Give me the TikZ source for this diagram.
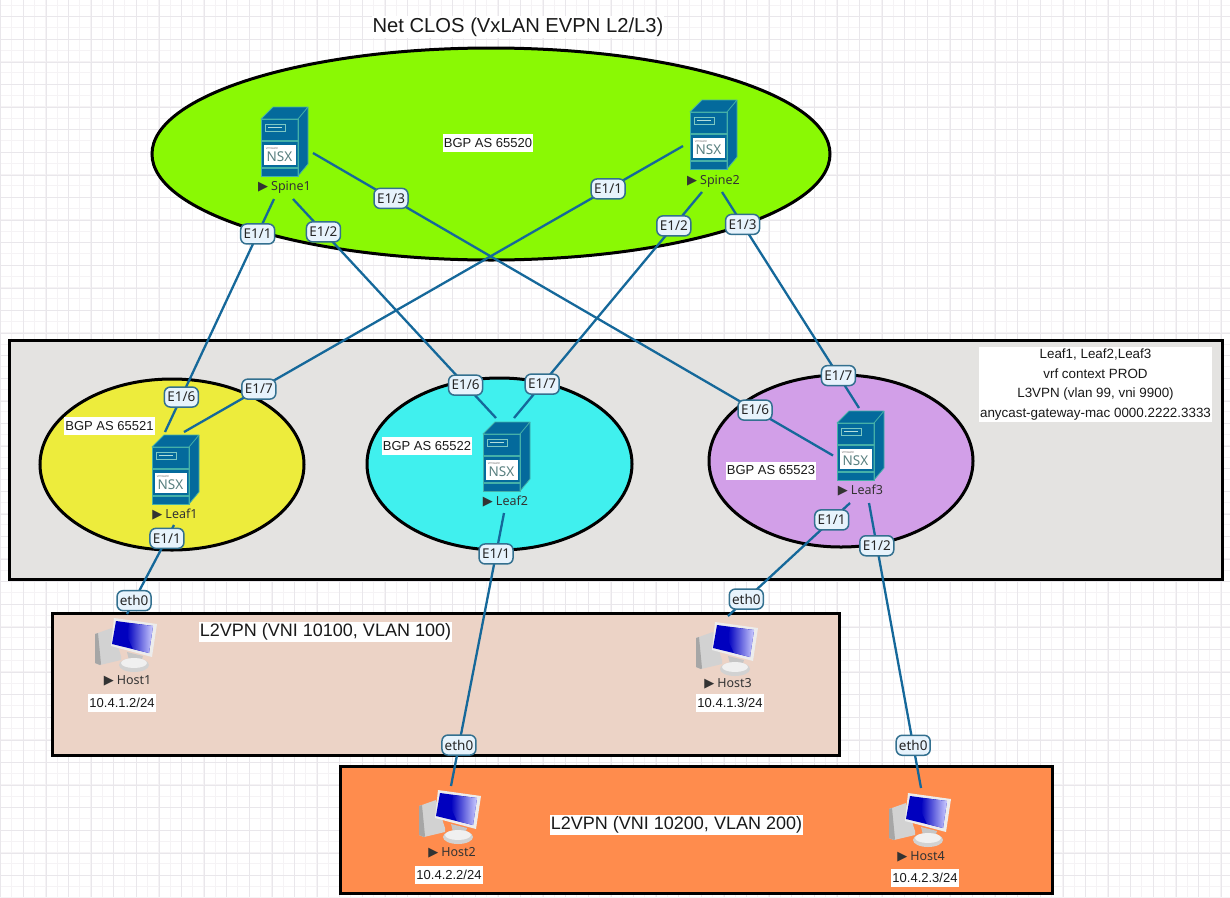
\documentclass[tikz,border=0pt]{standalone}
\usepackage{fontspec}
\setmainfont{Liberation Sans}
\newfontfamily\devfont{Noto Sans}
\newfontfamily\symfont{DejaVu Sans}
\usetikzlibrary{
  arrows.meta,
  positioning,
  fit,
  calc,
  shapes.geometric
}
\definecolor{linkblue}{HTML}{15689A}
\definecolor{portfill}{HTML}{E7F3FC}
\definecolor{portline}{HTML}{33708F}
\definecolor{nsxblue}{HTML}{046A9C}
\definecolor{nsxedge}{HTML}{45B0A8}
\definecolor{gridminor}{HTML}{F5F3F5}
\definecolor{gridmajor}{HTML}{E9E7EB}
\definecolor{fabricgray}{HTML}{E4E3E1}
\definecolor{vlanpeach}{HTML}{ECD3C6}
\definecolor{vlanorange}{HTML}{FF8C4D}
\definecolor{spinegreen}{HTML}{8AF904}
\definecolor{leafyellow}{HTML}{EDEC3C}
\definecolor{leafcyan}{HTML}{40F0EE}
\definecolor{leafviolet}{HTML}{D29FE8}
\newcommand{\fsize}[1]{\fontsize{#1}{#1}\selectfont}
\newcommand{\runmark}{{\symfont\fsize{13}\char"25B6}\hspace{3pt}}
\tikzset{
  zone/.style={draw=black, line width=3pt, inner sep=0pt},
  asarea/.style={draw=black, line width=3pt, ellipse, inner sep=0pt},
  note/.style={fill=white, inner xsep=1pt, inner ysep=2pt, text=black!90},
  hostip/.style={note, font=\fsize{13}, minimum height=18pt},
  bgpas/.style={note, font=\fsize{13}, minimum height=18pt},
  vpntext/.style={note, font=\fsize{18}},
  device/.style={inner sep=0pt, outer sep=0pt},
  devname/.style={inner sep=0pt, text=black!80, font=\devfont\fsize{12.5}},
  link/.style={draw=linkblue, line width=2.3pt},
  port/.style={draw=portline, fill=portfill, line width=1.5pt, rounded corners=6pt,
    minimum width=34pt, minimum height=20pt, inner sep=0pt, text=black!85,
    font=\devfont\fsize{13.5}},
  nsxicon/.pic={
    \fill[nsxblue] (0,12) -- (12,0) -- (47,0) -- (47,57) -- (37,69) -- (0,69) -- cycle;
    \draw[nsxedge, line width=.8pt, line join=round] (0,12) -- (12,0) -- (47,0) -- (37,12) -- cycle;
    \draw[nsxedge, line width=.8pt, line join=round] (47,0) -- (47,57) -- (37,69) -- (37,12);
    \draw[nsxedge, line width=.8pt] (0,12) rectangle (37,69);
    \draw[nsxedge, line width=1.3pt] (0,34) -- (37,34) (0,61) -- (37,61);
    \draw[nsxedge!70!white, line width=1pt] (4,17) rectangle (24,24);
    \draw[nsxedge!40!white, line width=1pt] (7,20.5) -- (21,20.5);
    \fill[white] (2.5,38) rectangle (34.5,58);
    \node[inner sep=0pt, text=gray, font=\fsize{3.5}] (-brand) at (11,42) {vmware};
    \node[inner sep=0pt, text=gray!70!teal, font=\devfont\bfseries\fsize{13.5}] (-logo) at (18.5,50) {NSX};
  },
  hosticon/.pic={
    \fill[gray!35] (0,16) -- (17,10) -- (26,38) -- (26,42) -- (5,47) -- (0,45) -- cycle;
    \fill[gray!70] (0,16) -- (3,15) -- (6,46) -- (5,47) -- (0,45) -- cycle;
    \fill[gray!45] (32,34) -- (48,38) -- (46,44) -- (34,42) -- cycle;
    \fill[gray!35] (39,47) ellipse [x radius=15pt, y radius=7pt];
    \fill[gray!12] (39,45) ellipse [x radius=13pt, y radius=5pt];
    \fill[gray!15] (19,0) -- (62,6) -- (57,39) -- (16,28) -- cycle;
    \fill[blue!75!black] (21,3) -- (58,8) -- (54,35) -- (17,26) -- cycle;
    \shade[left color=blue!75!black, right color=blue!20!white]
      (34,5) -- (58,8) -- (54,35) -- (38,31) -- (32,18) -- cycle;
  }
}

\begin{document}
\begin{tikzpicture}[x=1pt, y=-1pt]
\useasboundingbox (0,0) rectangle (1230,897);

% -------------------------
% Grid background
% -------------------------
\fill[white] (0,0) rectangle (1230,897);
\foreach \i in {0,...,108} {
  \draw[gridminor, line width=.8pt] ({.4+11.3*\i},0) -- ({.4+11.3*\i},897);
}
\foreach \i in {0,...,79} {
  \draw[gridminor, line width=.8pt] (0,{5+11.3*\i}) -- (1230,{5+11.3*\i});
}
\foreach \i in {0,...,54} {
  \draw[gridmajor, line width=.8pt] ({.7+22.6*\i},0) -- ({.7+22.6*\i},897);
}
\foreach \i in {0,...,39} {
  \draw[gridmajor, line width=.8pt] (0,{16.7+22.6*\i}) -- (1230,{16.7+22.6*\i});
}

% -------------------------
% Zones
% -------------------------
\node[note, font=\fsize{20.2}] (title) at (518, 27) {Net CLOS (VxLAN EVPN L2/L3)};

\node[zone, fill=fabricgray, minimum width=1213pt, minimum height=239pt] (fabric) at (615.5, 459.5) {};
\node[zone, fill=vlanpeach,  minimum width=787pt,  minimum height=142pt] (vlanA)  at (445.5, 684)   {};
\node[zone, fill=vlanorange, minimum width=712pt,  minimum height=127pt] (vlanB)  at (696, 829.5)   {};

\node[asarea, fill=spinegreen, minimum width=678pt, minimum height=212pt] (spineArea) at (491, 154)   {};
\node[asarea, fill=leafyellow, minimum width=264pt, minimum height=171pt] (leafAreaA) at (172, 464.5) {};
\node[asarea, fill=leafcyan,   minimum width=265pt, minimum height=172pt] (leafAreaB) at (499.5, 464) {};
\node[asarea, fill=leafviolet, minimum width=264pt, minimum height=172pt] (leafAreaC) at (841, 461)   {};

% -------------------------
% Texts
% -------------------------
\node[bgpas] (bgpSpine) at (488, 143)   {BGP AS 65520};
\node[bgpas] (bgpLeafA) at (109.5, 426) {BGP AS 65521};
\node[bgpas] (bgpLeafB) at (427, 446)   {BGP AS 65522};
\node[bgpas] (bgpLeafC) at (771, 470.5) {BGP AS 65523};

\node[note, font=\fsize{13.4}, align=center] (vrfInfo) at (1095.5, 384.5)
  {Leaf1, Leaf2,Leaf3\\[6.1pt]vrf context PROD\\[6.1pt]L3VPN (vlan 99, vni 9900)\\[6.1pt]anycast-gateway-mac 0000.2222.3333};

\node[vpntext] (vpnA) at (325.5, 632) {L2VPN (VNI 10100, VLAN 100)};
\node[vpntext] (vpnB) at (676.5, 825) {L2VPN (VNI 10200, VLAN 200)};

\node[hostip] (ipA) at (122, 703) {10.4.1.2/24};
\node[hostip] (ipC) at (730, 703) {10.4.1.3/24};
\node[hostip] (ipB) at (449, 875) {10.4.2.2/24};
\node[hostip] (ipD) at (925, 878) {10.4.2.3/24};

% -------------------------
% Devices
% -------------------------
\pic (iconSpineA) at (261, 107) {nsxicon};
\pic (iconSpineB) at (690, 100) {nsxicon};
\pic (iconLeafA)  at (152, 435) {nsxicon};
\pic (iconLeafB)  at (483, 422) {nsxicon};
\pic (iconLeafC)  at (837, 411) {nsxicon};

\pic (iconHostA) at (95, 618)  {hosticon};
\pic (iconHostC) at (696, 622) {hosticon};
\pic (iconHostB) at (419, 790) {hosticon};
\pic (iconHostD) at (889, 793) {hosticon};

\node[device, minimum width=52pt, minimum height=92pt] (spineA) at (287, 153)   {};
\node[device, minimum width=56pt, minimum height=92pt] (spineB) at (711, 146)   {};
\node[device, minimum width=46pt, minimum height=93pt] (leafA)  at (175, 478.5) {};
\node[device, minimum width=46pt, minimum height=95pt] (leafB)  at (506, 465.5) {};
\node[device, minimum width=50pt, minimum height=95pt] (leafC)  at (858, 455.5) {};

\node[device, minimum width=62pt, minimum height=58pt] (hostA) at (126, 643)   {};
\node[device, minimum width=62pt, minimum height=58pt] (hostC) at (727, 645)   {};
\node[device, minimum width=62pt, minimum height=58pt] (hostB) at (450, 815)   {};
\node[device, minimum width=62pt, minimum height=58pt] (hostD) at (920, 817)   {};

\node[devname] (nameSpineA) at (284.5, 187) {\runmark Spine1};
\node[devname] (nameSpineB) at (713.5, 181) {\runmark Spine2};
\node[devname] (nameLeafA)  at (175, 515)   {\runmark Leaf1};
\node[devname] (nameLeafB)  at (505.5, 502) {\runmark Leaf2};
\node[devname] (nameLeafC)  at (860.5, 491) {\runmark Leaf3};
\node[devname] (nameHostA)  at (127.5, 681) {\runmark Host1};
\node[devname] (nameHostC)  at (728, 684)   {\runmark Host3};
\node[devname] (nameHostB)  at (452, 853)   {\runmark Host2};
\node[devname] (nameHostD)  at (921, 857)   {\runmark Host4};

% -------------------------
% Links
% -------------------------
\begin{scope}[every node/.append style={port}]
% Spine to leaf
\path [link] ([xshift=-13pt]spineA.south) edge node[pos=.15] (portA) {E1/1} node[pos=.85] (portB) {E1/6} ([xshift=-10pt]leafA.north);
\path [link] ([xshift=6pt]spineA.south)   edge node[pos=.15] (portC) {E1/2} node[pos=.85] (portD) {E1/6} ([xshift=-10pt]leafB.north);
\path [link] (spineA.east)                edge node[pos=.15] (portE) {E1/3} node[pos=.85] (portF) {E1/6} (leafC.west);
\path [link] (spineB.west)                edge node[pos=.15] (portG) {E1/1} node[pos=.85] (portH) {E1/7} ([xshift=9pt]leafA.north);
\path [link] ([xshift=-9pt]spineB.south)  edge node[pos=.15] (portI) {E1/2} node[pos=.85] (portJ) {E1/7} ([xshift=8pt]leafB.north);
\path [link] ([xshift=11pt]spineB.south)  edge node[pos=.15] (portK) {E1/3} node[pos=.85] (portL) {E1/7} ([xshift=1pt]leafC.north);

% Leaf to host
\path [link] ([xshift=-1pt]leafA.south)   edge node[pos=.15] (portM) {E1/1} node[pos=.85] (portN) {eth0} ([xshift=1pt]hostA.north);
\path [link] ([xshift=-2pt]leafB.south)   edge node[pos=.15] (portO) {E1/1} node[pos=.85] (portP) {eth0} ([xshift=1pt]hostB.north);
\path [link] ([xshift=-8pt]leafC.south)   edge node[pos=.15] (portQ) {E1/1} node[pos=.85] (portR) {eth0} ([xshift=1pt]hostC.north);
\path [link] ([xshift=11pt]leafC.south)   edge node[pos=.15] (portS) {E1/2} node[pos=.85] (portT) {eth0} ([xshift=1pt]hostD.north);
\end{scope}

\end{tikzpicture}
\end{document}
